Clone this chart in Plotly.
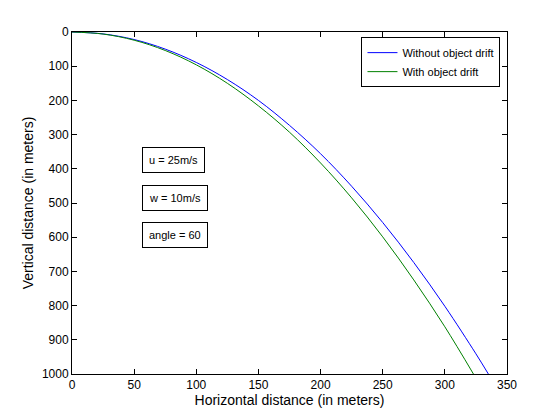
import plotly.graph_objects as go

x_blue = [0, 25, 50, 75, 100, 125, 150, 175, 200, 225, 250, 275, 300, 325, 335]
y_blue = [0, 5.6, 22, 50, 89, 139, 200, 273, 356, 451, 557, 674, 802, 941, 1000]
x_green = [0, 25, 50, 75, 100, 125, 150, 175, 200, 225, 250, 275, 300, 323]
y_green = [0, 6, 24, 54, 96, 150, 216, 293, 383, 485, 599, 725, 862, 1000]
ticks_x = [0, 50, 100, 150, 200, 250, 300, 350]
ticks_y = [0, 100, 200, 300, 400, 500, 600, 700, 800, 900, 1000]
notes = ["u = 25m/s", "w = 10m/s", "angle = 60"]

fig = go.Figure()
fig.add_trace(go.Scatter(x=x_blue, y=y_blue, mode="lines", line=dict(color="#0000FF", width=1, shape="spline"),
                         name="Without object drift"))
fig.add_trace(go.Scatter(x=x_green, y=y_green, mode="lines", line=dict(color="#008000", width=1, shape="spline"),
                         name="With object drift"))
ax = dict(showgrid=False, zeroline=False, showline=True, mirror="ticks", linecolor="black",
          ticks="inside", ticklen=5, tickcolor="black")
fig.update_xaxes(range=[0, 350], tickvals=ticks_x, title=dict(text="Horizontal distance (in meters)", standoff=2), **ax)
fig.update_yaxes(range=[1000, 0], tickvals=ticks_y, title=dict(text="Vertical distance (in meters)", standoff=4), **ax)
for i, t in enumerate(notes):
    fig.add_annotation(x=56, y=[375, 485, 595][i], text=t, showarrow=False, xanchor="left",
                       bordercolor="black", borderwidth=1, borderpad=6, bgcolor="white",
                       font=dict(size=11, color="black"))
fig.update_layout(width=560, height=420, margin=dict(l=64, r=61, t=24, b=54),
                  paper_bgcolor="white", plot_bgcolor="white",
                  font=dict(family="Liberation Sans, Arial", size=12, color="black"),
                  legend=dict(x=0.985, y=0.985, xanchor="right", yanchor="top", bordercolor="black",
                              borderwidth=1, bgcolor="white", font=dict(size=11)))
fig.write_html("out.html")
